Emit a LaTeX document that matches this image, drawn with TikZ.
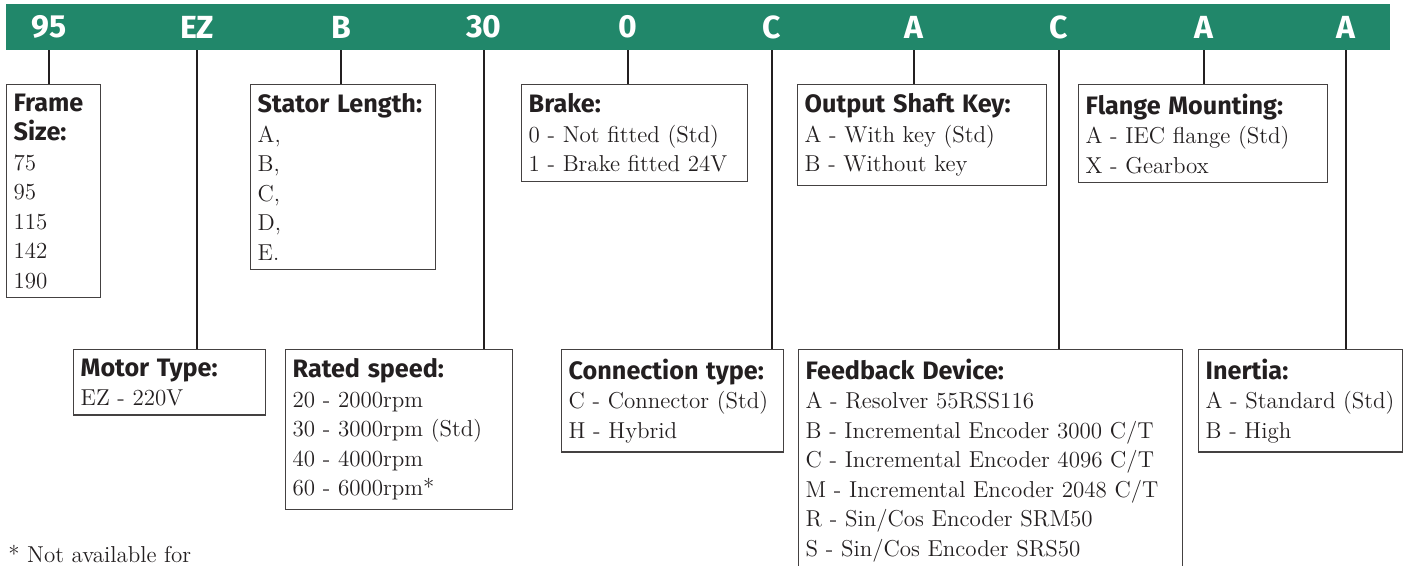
\documentclass[tikz,border=0pt]{standalone}
\usepackage{fontspec}
\newfontfamily\headfont{Fira Sans}
\usetikzlibrary{positioning}
\definecolor{codegreen}{RGB}{33,135,106}
\definecolor{ink}{RGB}{35,31,32}
\tikzset{
  codebar/.style={fill=codegreen, minimum width=692pt, minimum height=23pt, inner sep=0pt},
  code/.style={text=white, inner sep=0pt, font=\headfont\bfseries\fontsize{16}{16}\selectfont},
  optbox/.style={draw=ink!85, line width=0.7pt, anchor=north west, align=left,
    inner xsep=3.5pt, inner ysep=4.5pt, text=ink, font=\fontsize{11.5}{14.75}\selectfont},
  lead/.style={draw=ink, line width=1pt},
}
\newcommand{\hd}[1]{{\headfont\bfseries\fontsize{12.6}{14.75}\selectfont #1}}

\begin{document}
\begin{tikzpicture}[x=0.5pt, y=-0.5pt]
  \useasboundingbox (0,0) rectangle (1410,566);

  % code bar
  \node[codebar] (bar) at (698,27) {};
  \node[code] (cFrame)   at (49,27)   {95};
  \node[code] (cType)    at (197,27)  {EZ};
  \node[code] (cLength)  at (341,27)  {B};
  \node[code] (cSpeed)   at (484,27)  {30};
  \node[code] (cBrake)   at (628,27)  {0};
  \node[code] (cConn)    at (772,27)  {C};
  \node[code] (cKey)     at (914,27)  {A};
  \node[code] (cFeed)    at (1059,27) {C};
  \node[code] (cFlange)  at (1204,27) {A};
  \node[code] (cInertia) at (1346,27) {A};

  % upper row
  \node[optbox, text width=40pt] (frame) at (6,84)
    {\hd{Frame}\\\hd{Size:}\\75\\95\\115\\142\\190};
  \node[optbox, text width=85.5pt] (length) at (250,84)
    {\hd{Stator Length:}\\A,\\B,\\C,\\D,\\E.};
  \node[optbox, text width=106pt] (brake) at (521,84)
    {\hd{Brake:}\\0 - Not fitted (Std)\\1 - Brake fitted 24V};
  \node[optbox, text width=117.5pt] (key) at (797,84)
    {\hd{Output Shaft Key:}\\A - With key (Std)\\B - Without key};
  \node[optbox, text width=117.5pt] (flange) at (1078,84)
    {\hd{Flange Mounting:}\\A - IEC flange (Std)\\X - Gearbox};

  % lower row
  \node[optbox, text width=89pt] (type) at (73,349)
    {\hd{Motor Type:}\\EZ - 220V};
  \node[optbox, text width=106.5pt] (speed) at (285,349)
    {\hd{Rated speed:}\\20 - 2000rpm\\30 - 3000rpm (Std)\\40 - 4000rpm\\60 - 6000rpm*};
  \node[optbox, text width=104pt] (conn) at (561,349)
    {\hd{Connection type:}\\C - Connector (Std)\\H - Hybrid};
  \node[optbox, text width=185pt] (feed) at (798,349)
    {\hd{Feedback Device:}\\A - Resolver 55RSS116\\B - Incremental Encoder 3000 C/T\\
     C - Incremental Encoder 4096 C/T\\M - Incremental Encoder 2048 C/T\\
     R - Sin/Cos Encoder SRM50\\S - Sin/Cos Encoder SRS50\\\mbox{}};
  \node[optbox, text width=95pt] (inertia) at (1198,349)
    {\hd{Inertia:}\\A - Standard (Std)\\B - High};

  % leads
  \draw[lead] (cFrame |- bar.south) -- (cFrame |- frame.north);
  \draw[lead] (cType |- bar.south) -- (cType |- type.north);
  \draw[lead] (cLength |- bar.south) -- (cLength |- length.north);
  \draw[lead] (cSpeed |- bar.south) -- (cSpeed |- speed.north);
  \draw[lead] (cBrake |- bar.south) -- (cBrake |- brake.north);
  \draw[lead] (cConn |- bar.south) -- (cConn |- conn.north);
  \draw[lead] (cKey |- bar.south) -- (cKey |- key.north);
  \draw[lead] (cFeed |- bar.south) -- (cFeed |- feed.north);
  \draw[lead] (cFlange |- bar.south) -- (cFlange |- flange.north);
  \draw[lead] (cInertia |- bar.south) -- (cInertia |- inertia.north);

  % footnote
  \node[anchor=base west, inner sep=0pt, text=ink, font=\fontsize{11.5}{14.75}\selectfont]
    (note) at (8,563) {* Not available for};
\end{tikzpicture}
\end{document}
